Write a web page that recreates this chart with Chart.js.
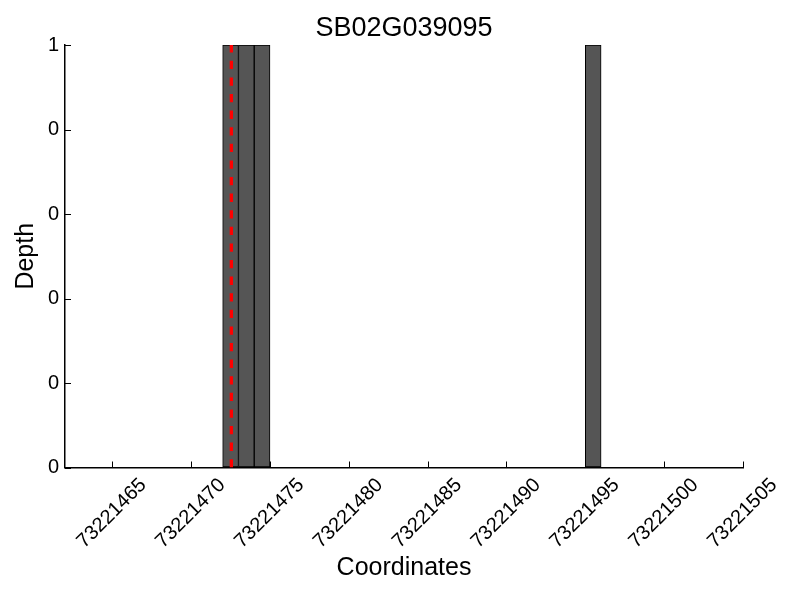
<!DOCTYPE html>
<html>
<head>
<meta charset="utf-8">
<script src="https://cdn.jsdelivr.net/npm/chart.js@4.4.1/dist/chart.umd.min.js"></script>
<style>html,body{margin:0;padding:0;background:#fff;}#wrap{width:800px;height:600px;}</style>
</head>
<body>
<div id="wrap"><canvas id="c" width="800" height="600"></canvas></div>
<script>
// ---- data ----
const chartTitle = "SB02G039095";
const xAxisTitle = "Coordinates";
const yAxisTitle = "Depth";
const binStarts = [73221472, 73221473, 73221474, 73221495];
const depthValues = [1, 1, 1, 1];
const markerPosition = 73221472.55;
const xRange = [73221462, 73221505];
const xTickValues = [73221465, 73221470, 73221475, 73221480, 73221485, 73221490, 73221495, 73221500, 73221505];
const yTickValues = [0, 0.2, 0.4, 0.6, 0.8, 1];
const yTickLabels = ["0", "0", "0", "0", "0", "1"];

// ---- chart ----
const FONT = "'Liberation Sans', Arial, Helvetica, sans-serif";
const barData = binStarts.map((s, i) => ({ x: s + 0.5, y: depthValues[i] }));
const markerData = [{ x: markerPosition, y: 0 }, { x: markerPosition, y: 1 }];

const inwardTicks = {
  id: 'inwardTicks',
  afterDraw(chart) {
    const ctx = chart.ctx, a = chart.chartArea;
    const xs = chart.scales.x, ys = chart.scales.y;
    ctx.save();
    ctx.strokeStyle = '#000';
    ctx.lineWidth = 1;
    ctx.beginPath();
    xTickValues.forEach(v => {
      const px = Math.round(xs.getPixelForValue(v)) + 0.5;
      ctx.moveTo(px, a.bottom);
      ctx.lineTo(px, a.bottom - 6);
    });
    yTickValues.forEach(v => {
      const py = Math.round(ys.getPixelForValue(v)) + 0.5;
      ctx.moveTo(a.left, py);
      ctx.lineTo(a.left + 6, py);
    });
    ctx.stroke();
    ctx.restore();
  }
};

new Chart(document.getElementById('c'), {
  type: 'bar',
  data: {
    datasets: [
      {
        type: 'line',
        data: markerData,
        borderColor: '#ff0000',
        borderWidth: 3.3,
        borderDash: [8.3, 8.3],
        pointRadius: 0,
        fill: false,
        order: 0
      },
      {
        type: 'bar',
        data: barData,
        backgroundColor: '#555555',
        borderColor: '#000000',
        borderWidth: 1,
        borderSkipped: false,
        barPercentage: 1,
        categoryPercentage: 1,
        order: 1
      }
    ]
  },
  options: {
    responsive: false,
    animation: false,
    events: [],
    layout: { padding: { left: 0, right: 57, top: 0, bottom: 0 } },
    plugins: {
      legend: { display: false },
      tooltip: { enabled: false },
      title: {
        display: true,
        text: chartTitle,
        fullSize: false,
        color: '#000',
        font: { family: FONT, size: 27, weight: 'normal', lineHeight: 1.2 },
        padding: { top: 12, bottom: 0.6 }
      }
    },
    scales: {
      x: {
        type: 'linear',
        min: xRange[0],
        max: xRange[1],
        offset: false,
        afterBuildTicks: s => { s.ticks = xTickValues.map(v => ({ value: v })); },
        afterFit: s => { s.height = 132.5; },
        grid: { display: true, drawOnChartArea: false, drawTicks: false, offset: false },
        border: { display: true, color: '#000', width: 1.5 },
        ticks: {
          autoSkip: false,
          minRotation: 45,
          maxRotation: 45,
          padding: 6,
          labelOffset: 31,
          color: '#000',
          font: { family: FONT, size: 20 },
          callback: v => String(v)
        },
        title: {
          display: true,
          text: xAxisTitle,
          color: '#000',
          font: { family: FONT, size: 25, lineHeight: 1.2 },
          padding: { top: 0, bottom: 17 }
        }
      },
      y: {
        min: 0,
        max: 1,
        afterBuildTicks: s => { s.ticks = yTickValues.map(v => ({ value: v })); },
        afterFit: s => { s.width = 65; },
        grid: { display: true, drawOnChartArea: false, drawTicks: false },
        border: { display: true, color: '#000', width: 1.5 },
        ticks: {
          padding: 6,
          color: '#000',
          font: { family: FONT, size: 20 },
          callback: (v, i) => yTickLabels[i]
        },
        title: {
          display: true,
          text: yAxisTitle,
          color: '#000',
          font: { family: FONT, size: 25, lineHeight: 1.2 },
          padding: { top: 11, bottom: 0 }
        }
      }
    }
  },
  plugins: [inwardTicks]
});
</script>
</body>
</html>
